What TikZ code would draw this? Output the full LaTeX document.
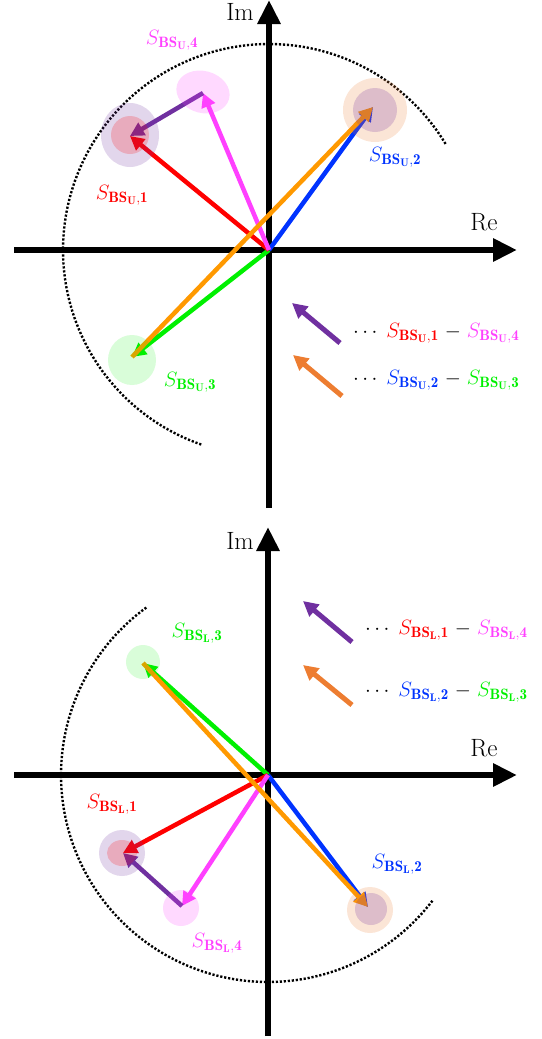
\documentclass[tikz,border=0pt]{standalone}
\usepackage{fontspec}
\usetikzlibrary{arrows.meta}
\DeclareMathSizes{20}{20}{15}{11}
\definecolor{cRed}{RGB}{255,0,0}
\definecolor{cMag}{RGB}{255,64,255}
\definecolor{cBlue}{RGB}{0,51,255}
\definecolor{cGreen}{RGB}{0,240,0}
\definecolor{cOrange}{RGB}{255,153,0}
\definecolor{cPurple}{RGB}{112,48,160}
\definecolor{cLOrange}{RGB}{237,125,49}
\newcommand\SBS[2]{$S_{\mathbf{BS_{#1},#2}}$}
\tikzset{
  axis/.style={line width=6pt, -{Triangle[length=24pt,width=22pt]}},
  vec/.style={line width=4.5pt, -{Triangle[length=14pt,width=14pt]}},
  legarrow/.style={line width=5pt, -{Triangle[length=15pt,width=15pt]}},
  lab/.style={font=\fontsize{20}{22}\selectfont, inner sep=0pt},
  axlab/.style={font=\fontsize{25}{27}\selectfont, inner sep=0pt},
  dots/.style={line width=2.4pt, dash pattern=on 2.2pt off 1.8pt},
  blob/.style={opacity=0.2}
}
\begin{document}
\begin{tikzpicture}[x=1pt,y=-1pt]
\useasboundingbox (0,0) rectangle (541,1039);
% ================= TOP =================
\coordinate (o1) at (269,250);
\coordinate (u1) at (130,136);
\coordinate (u2) at (373,107);
\coordinate (u3) at (132,357);
\coordinate (u4) at (203,93);
\coordinate (axL1) at (14,250);
\coordinate (axR1) at (517,250);
\coordinate (axB1) at (269,508);
\coordinate (axT1) at (269,0);
\draw[dots] plot[domain=31:251, samples=120] ({269+206*cos(\x)},{250-206*sin(\x)});
\draw[axis] (axL1) -- (axR1);
\draw[axis] (axB1) -- (axT1);
\node[axlab] (im1) at (240,12) {Im};
\node[axlab] (re1) at (484,222) {Re};
\draw[vec, cGreen] (o1) -- (u3);
\draw[vec, cBlue] (o1) -- (u2);
\draw[vec, cRed] (o1) -- (u1);
\draw[vec, cMag] (o1) -- (u4);
\draw[vec, cPurple] (u4) -- (u1);
\draw[vec, cOrange] (u3) -- (u2);
\fill[cPurple, blob] (130,135) ellipse [x radius=29pt, y radius=32pt];
\fill[cRed, blob] (130,135) circle [radius=19pt];
\fill[cMag, blob, rotate around={-15:(203,92)}] (203,92) ellipse [x radius=27pt, y radius=21pt];
\fill[cLOrange, blob] (375,110) circle [radius=32pt];
\fill[cPurple, opacity=0.22] (375,110) circle [radius=22pt];
\fill[cGreen, opacity=0.15] (132,360) ellipse [x radius=24pt, y radius=25pt];
\node[lab, text=cMag] (lu4) at (172,40) {\SBS{U}{4}};
\node[lab, text=cRed] (lu1) at (122,195) {\SBS{U}{1}};
\node[lab, text=cBlue] (lu2) at (395,157) {\SBS{U}{2}};
\node[lab, text=cGreen] (lu3) at (190,382) {\SBS{U}{3}};
% legend top
\coordinate (lp1s) at (340,343); \coordinate (lp1e) at (292,303);
\coordinate (lo1s) at (342,396); \coordinate (lo1e) at (293,355);
\draw[legarrow, cPurple] (lp1s) -- (lp1e);
\draw[legarrow, cLOrange] (lo1s) -- (lo1e);
\node[lab, anchor=west] (leg1a) at (353,333) {$\cdots$\hspace{9pt}\textcolor{cRed}{\SBS{U}{1}} $-$ \textcolor{cMag}{\SBS{U}{4}}};
\node[lab, anchor=west] (leg1b) at (353,380) {$\cdots$\hspace{9pt}\textcolor{cBlue}{\SBS{U}{2}} $-$ \textcolor{cGreen}{\SBS{U}{3}}};
% ================= BOTTOM =================
\coordinate (o2) at (268,775);
\coordinate (l1) at (123,853);
\coordinate (l2) at (368,907);
\coordinate (l3) at (143,663);
\coordinate (l4) at (182,906);
\coordinate (axL2) at (14,775);
\coordinate (axR2) at (517,775);
\coordinate (axB2) at (268,1036);
\coordinate (axT2) at (268,527);
\draw[dots] plot[domain=126:323, samples=120] ({268+207*cos(\x)},{775-207*sin(\x)});
\draw[axis] (axL2) -- (axR2);
\draw[axis] (axB2) -- (axT2);
\node[axlab] (im2) at (240,541) {Im};
\node[axlab] (re2) at (484,748) {Re};
\draw[vec, cGreen] (o2) -- (l3);
\draw[vec, cBlue] (o2) -- (l2);
\draw[vec, cRed] (o2) -- (l1);
\draw[vec, cMag] (o2) -- (l4);
\draw[vec, cPurple] (l4) -- (l1);
\draw[vec, cOrange] (l3) -- (l2);
\fill[cPurple, blob] (122,853) circle [radius=23pt];
\fill[cRed, blob] (122,853) ellipse [x radius=15pt, y radius=13pt];
\fill[cMag, blob] (181,908) circle [radius=18pt];
\fill[cLOrange, blob] (370,910) circle [radius=23pt];
\fill[cPurple, opacity=0.22] (371,909) circle [radius=16pt];
\fill[cGreen, opacity=0.15] (143,662) circle [radius=17pt];
\node[lab, text=cGreen] (ll3) at (197,633) {\SBS{L}{3}};
\node[lab, text=cRed] (ll1) at (112,804) {\SBS{L}{1}};
\node[lab, text=cMag] (ll4) at (217,943) {\SBS{L}{4}};
\node[lab, text=cBlue] (ll2) at (397,864) {\SBS{L}{2}};
% legend bottom
\coordinate (lp2s) at (352,642); \coordinate (lp2e) at (303,601);
\coordinate (lo2s) at (352,705); \coordinate (lo2e) at (303,665);
\draw[legarrow, cPurple] (lp2s) -- (lp2e);
\draw[legarrow, cLOrange] (lo2s) -- (lo2e);
\node[lab, anchor=west] (leg2a) at (365,630) {$\cdots$\hspace{9pt}\textcolor{cRed}{\SBS{L}{1}} $-$ \textcolor{cMag}{\SBS{L}{4}}};
\node[lab, anchor=west] (leg2b) at (365,692) {$\cdots$\hspace{9pt}\textcolor{cBlue}{\SBS{L}{2}} $-$ \textcolor{cGreen}{\SBS{L}{3}}};
\end{tikzpicture}
\end{document}
